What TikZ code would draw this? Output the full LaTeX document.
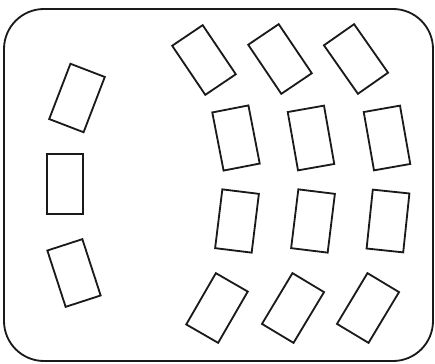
\documentclass[tikz,border=0pt]{standalone}
\usepackage{tikz}
\definecolor{rmline}{HTML}{1A1A1A}
\tikzset{
  desk/.style={draw=rmline,line width=1.3pt,minimum width=0.92cm,minimum height=1.48cm,
               inner sep=0pt,outer sep=0pt},
  wall/.style={draw=rmline,line width=1.3pt,rounded corners=1.0cm},
}
\begin{document}
\begin{tikzpicture}[x=0.025cm,y=0.025cm]
    \useasboundingbox (0,0) rectangle (435,363);
    % room outline
    \draw[wall] (4,2) rectangle (433,354);
    % side desks
    \node[desk,rotate=-21] (side1) at (77,265) {};
    \node[desk]            (side2) at (65,179) {};
    \node[desk,rotate=18]  (side3) at (74,90)  {};
    % front row
    \node[desk,rotate=34] (rowa1) at (204,303) {};
    \node[desk,rotate=34] (rowa2) at (280,304) {};
    \node[desk,rotate=35] (rowa3) at (356,304) {};
    % second row
    \node[desk,rotate=11] (rowb1) at (236,225) {};
    \node[desk,rotate=10] (rowb2) at (311,225) {};
    \node[desk,rotate=10] (rowb3) at (387,225) {};
    % third row
    \node[desk,rotate=-7] (rowc1) at (237,142) {};
    \node[desk,rotate=-7] (rowc2) at (313,142) {};
    \node[desk,rotate=-6] (rowc3) at (388,142) {};
    % back row
    \node[desk,rotate=-30] (rowd1) at (217,55) {};
    \node[desk,rotate=-31] (rowd2) at (293,55) {};
    \node[desk,rotate=-31] (rowd3) at (368,55) {};
  \end{tikzpicture}
\end{document}
